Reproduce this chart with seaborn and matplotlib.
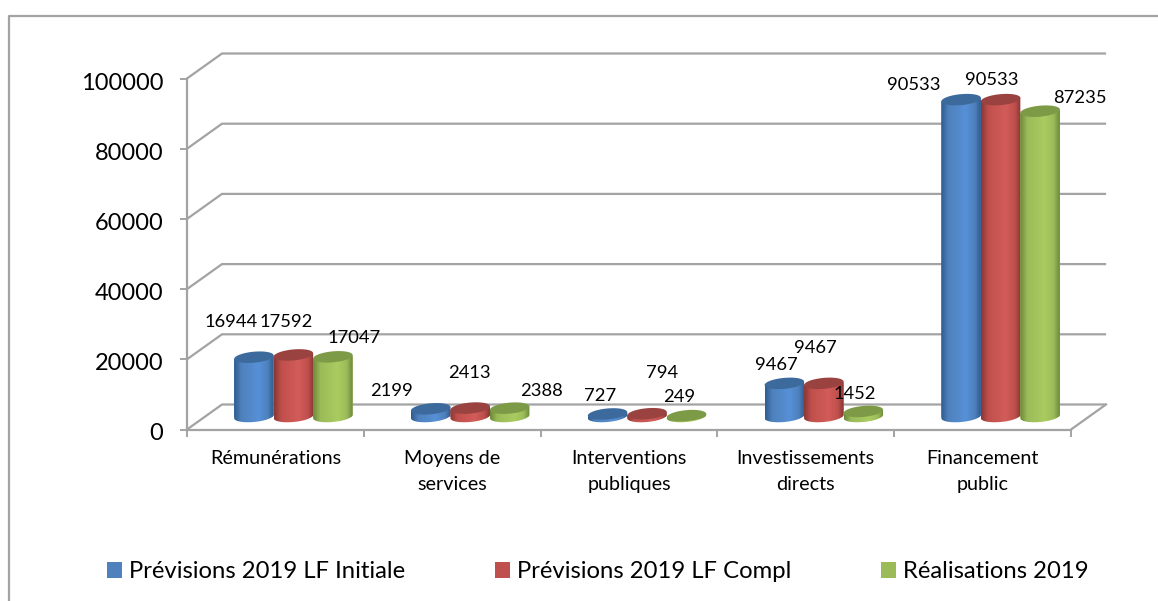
import matplotlib
matplotlib.use("Agg")
import matplotlib.pyplot as plt
import numpy as np
import pandas as pd
import seaborn as sns
from matplotlib.patches import Polygon
from matplotlib.path import Path
from matplotlib.colors import LinearSegmentedColormap
from matplotlib.transforms import ScaledTranslation

categories = ["Rémunérations", "Moyens de\nservices", "Interventions\npubliques",
              "Investissements\ndirects", "Financement\npublic"]
series_names = ["Prévisions 2019 LF Initiale", "Prévisions 2019 LF Compl", "Réalisations 2019"]
lf_initiale = [16944, 2199, 727, 9467, 90533]
lf_compl = [17592, 2413, 794, 9467, 90533]
realisations = [17047, 2388, 249, 1452, 87235]
y_ticks = [0, 20000, 40000, 60000, 80000, 100000]

colors = ["#4F81BD", "#C0504D", "#9BBB59"]
dark = ["#2F5C8F", "#8A3735", "#6E8A3A"]
light = ["#5690D6", "#D25C59", "#A9CC60"]
top_col = ["#3D6A9C", "#9A4240", "#7D9B47"]
grey = "#A3A3A3"

# hand placed labels in the original, centre x / centre y in pixels
label_px = [
    [(231, 322), (391, 391), (600, 396), (776, 365), (914, 85)],
    [(286, 322), (469, 373), (662, 373), (815, 348), (992, 80)],
    [(354, 338), (541, 391), (679, 397), (855, 394), (1080, 98)],
]

W, H = 1158, 601
FONT = "Lato"
plt.rcParams["font.family"] = [FONT, "DejaVu Sans"]


def px_axes(fig, left, top, right, bottom, **kw):
    return fig.add_axes([left / W, 1 - bottom / H, (right - left) / W, (bottom - top) / H], **kw)


fig = plt.figure(figsize=(W / 100, H / 100), dpi=100, facecolor="white")

# pixel layers for the chart frame / 3d walls and for the cylinder faces
back = px_axes(fig, 0, 0, W, H, zorder=0, xlim=(0, W), ylim=(H, 0))
back.axis("off")
deco = px_axes(fig, 0, 0, W, H, zorder=3, xlim=(0, W), ylim=(H, 0))
deco.axis("off")
deco.patch.set_alpha(0)

# front plane: carries the axis ticks and labels
ax = px_axes(fig, 187, 78.5, 1071, 429.5, zorder=1)
ax.patch.set_alpha(0)
df = pd.DataFrame({
    "cat": categories * 3,
    "serie": np.repeat(series_names, 5),
    "val": lf_initiale + lf_compl + realisations,
})
ax.set_xlim(-0.5, 4.5)
ax.set_ylim(0, 100000)
ax.set_xticks(np.arange(-0.5, 5))
ax.set_xticklabels([])
ax.set_xticks(range(5), categories, minor=True, fontsize=14.2, linespacing=1.63)
ax.set_yticks(y_ticks)
ax.tick_params(axis="y", length=5, width=1.4, color=grey, labelsize=17, pad=12)
ax.tick_params(axis="x", which="major", length=5, width=1.4, color=grey)
ax.tick_params(axis="x", which="minor", length=0, pad=15)
sns.despine(ax=ax)
for s in ["left", "bottom"]:
    ax.spines[s].set_color(grey)
    ax.spines[s].set_linewidth(1.6)
for lab in ax.get_yticklabels():
    lab.set_transform(lab.get_transform() + ScaledTranslation(0, -2.5 / 100, fig.dpi_scale_trans))

# bars sit half way into the depth of the 3d box
bar_ax = px_axes(fig, 205, 66.5, 1089, 416.5, zorder=2)
bar_ax.patch.set_alpha(0)
sns.barplot(data=df, x="cat", y="val", hue="serie", order=categories, hue_order=series_names,
            palette=colors, width=0.67, gap=0, saturation=1, dodge=True, errorbar=None, ax=bar_ax)
bar_ax.set_xlim(-0.5, 4.5)
bar_ax.set_ylim(0, 100000)
bar_ax.axis("off")
handles, labels = bar_ax.get_legend_handles_labels()
bar_ax.get_legend().remove()

# frame and walls
back.plot([9, 9, W], [H, 16, 16], color=grey, lw=1.6, solid_capstyle="butt")
dx, dy = 35, -25
for t in y_ticks:
    x0, y0 = 187, ax.transData.transform((0, t))[1]
    y0 = H - y0
    back.plot([x0, x0 + dx, 1071 + dx - 1], [y0, y0 + dy, y0 + dy], color=grey, lw=1.6)
back.plot([1071, 1071 + dx], [429.5, 429.5 + dy], color=grey, lw=1.6)

# cylinder faces from the bars seaborn drew
tilt = np.tan(np.radians(5))
for k, cont in enumerate(bar_ax.containers):
    cmap = LinearSegmentedColormap.from_list("c", [dark[k], colors[k], light[k], colors[k], dark[k]])
    grad_x = np.linspace(0, 1, 64)
    for bar in cont:
        (x0, yb), (x1, yt) = bar_ax.transData.transform(
            [(bar.get_x(), 0), (bar.get_x() + bar.get_width(), bar.get_height())])
        yb, yt = H - yb, H - yt
        cx, rx = (x0 + x1) / 2, (x1 - x0) / 2
        ry = 5.5
        a = np.linspace(0, np.pi, 40)
        ex = cx + rx * np.cos(a)
        low = yb + ry * np.sin(a) - tilt * rx * np.cos(a)
        body = np.r_[np.c_[[x1, x1], [yt - tilt * rx, yb - tilt * rx]],
                     np.c_[ex, low],
                     np.c_[[x0], [yt + tilt * rx]]]
        path = Path(np.r_[body, body[:1]], closed=True)
        bar.set_clip_path(path, deco.transData)
        shade = np.interp(grad_x, [0, 0.18, 0.62, 0.85, 1], [0, 0.25, 0.5, 0.75, 1])
        im = deco.imshow(shade[None, :], cmap=cmap, vmin=0, vmax=1, aspect="auto",
                         extent=(x0, x1, yb + ry + 3, yt - ry - 3), interpolation="bilinear")
        im.set_clip_path(path, deco.transData)
        b = np.linspace(0, 2 * np.pi, 60)
        deco.add_patch(Polygon(np.c_[cx + rx * np.cos(b),
                                     yt + ry * np.sin(b) - tilt * rx * np.cos(b)],
                               closed=True, fc=top_col[k], ec="none"))
deco.set_xlim(0, W)
deco.set_ylim(H, 0)

# data labels
for vals, pos in zip([lf_initiale, lf_compl, realisations], label_px):
    for v, (x, y) in zip(vals, pos):
        deco.text(x, y, str(v), ha="center", va="center", fontsize=13.2, color="black")

fig.legend(handles, labels, ncol=3, loc="center left", bbox_to_anchor=(107 / W, 1 - 572 / H),
           frameon=False, fontsize=17.2, handlelength=0.63, handleheight=0.63,
           handletextpad=0.29, columnspacing=3.76, borderpad=0, borderaxespad=0)

fig.savefig("out.png", dpi=100)
